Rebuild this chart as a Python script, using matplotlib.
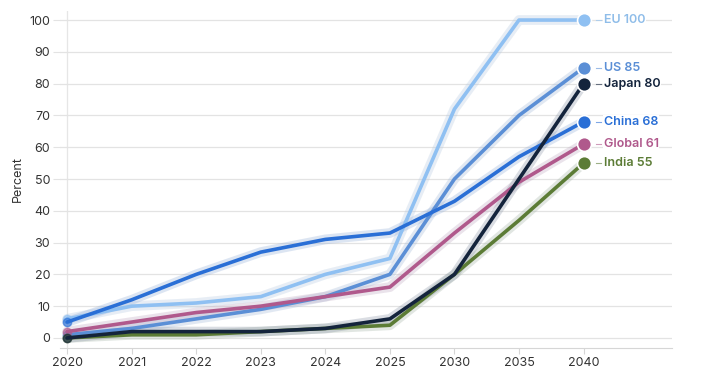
import matplotlib
matplotlib.use("Agg")
import matplotlib.pyplot as plt
import numpy as np

years = ["2020", "2021", "2022", "2023", "2024", "2025", "2030", "2035", "2040"]
eu = [6, 10, 11, 13, 20, 25, 72, 100, 100]
us = [1, 3, 6, 9, 13, 20, 50, 70, 85]
japan = [0, 2, 2, 2, 3, 6, 20, 50, 80]
china = [5, 12, 20, 27, 31, 33, 43, 57, 68]
global_ = [2, 5, 8, 10, 13, 16, 33, 49, 61]
india = [0, 1, 1, 2, 3, 4, 20, 37, 55]

series = [
    ("EU", eu, "#8fc0f2", "#8fbde9"),
    ("US", us, "#5b8fd6", "#5b8fd6"),
    ("China", china, "#2a6fd6", "#2a6fd6"),
    ("Global", global_, "#b0598c", "#b0598c"),
    ("India", india, "#5c7c36", "#5c7c36"),
    ("Japan", japan, "#14243c", "#14243c"),
]

plt.rcParams['font.family'] = ['Inter', 'DejaVu Sans']

fig = plt.figure(figsize=(7.12, 3.77), dpi=100)
ax = fig.add_axes([60/712, 1-347.5/377, (672-60)/712, (347.5-10.5)/377])

x = np.arange(len(years))
ax.set_xlim(-0.11, 9.37)
ax.set_ylim(-3, 103)

for name, vals, col, tcol in series:
    ax.plot(x, vals, color='#c8d0dc', lw=7, alpha=0.25, solid_capstyle='round', zorder=2)
    ax.plot(x, vals, color=col, lw=7, alpha=0.10, solid_capstyle='round', zorder=2)
    ax.plot(x, vals, color=col, lw=2.6, solid_capstyle='round', zorder=3)
    ax.plot(x[0], vals[0], 'o', color=col, ms=6, alpha=0.6, zorder=3, clip_on=False)
    ax.plot(x[-1], vals[-1], 'o', color=col, ms=10, mec='white', mew=1.2, zorder=4, clip_on=False)
    ax.plot([8.2, 8.27], [vals[-1], vals[-1]], color=col, lw=0.8, alpha=0.6, zorder=4)
    ax.text(8.31, vals[-1], f"{name} {vals[-1]}", color=tcol, fontsize=9,
            fontweight='semibold', va='center', ha='left', zorder=5,
            bbox=dict(facecolor='white', edgecolor='none', pad=0.5))

ax.set_yticks(np.arange(0, 101, 10))
ax.set_xticks(x)
ax.set_xticklabels(years)
ax.grid(axis='y', color='#e3e3e3', lw=0.9, zorder=0)
ax.axvline(0, color='#e6e6e6', lw=0.9, zorder=0)
for s in ['top', 'right', 'left']:
    ax.spines[s].set_visible(False)
ax.spines['bottom'].set_color('#d6d6d6')
ax.tick_params(axis='y', length=5, color='#e3e3e3', labelsize=9, labelcolor='#333333', pad=2)
ax.tick_params(axis='x', length=4, color='#d6d6d6', labelsize=9, labelcolor='#333333', pad=3)
ax.set_ylabel("Percent", fontsize=9, color='#333333', labelpad=4)

fig.savefig("out.png", dpi=100)
